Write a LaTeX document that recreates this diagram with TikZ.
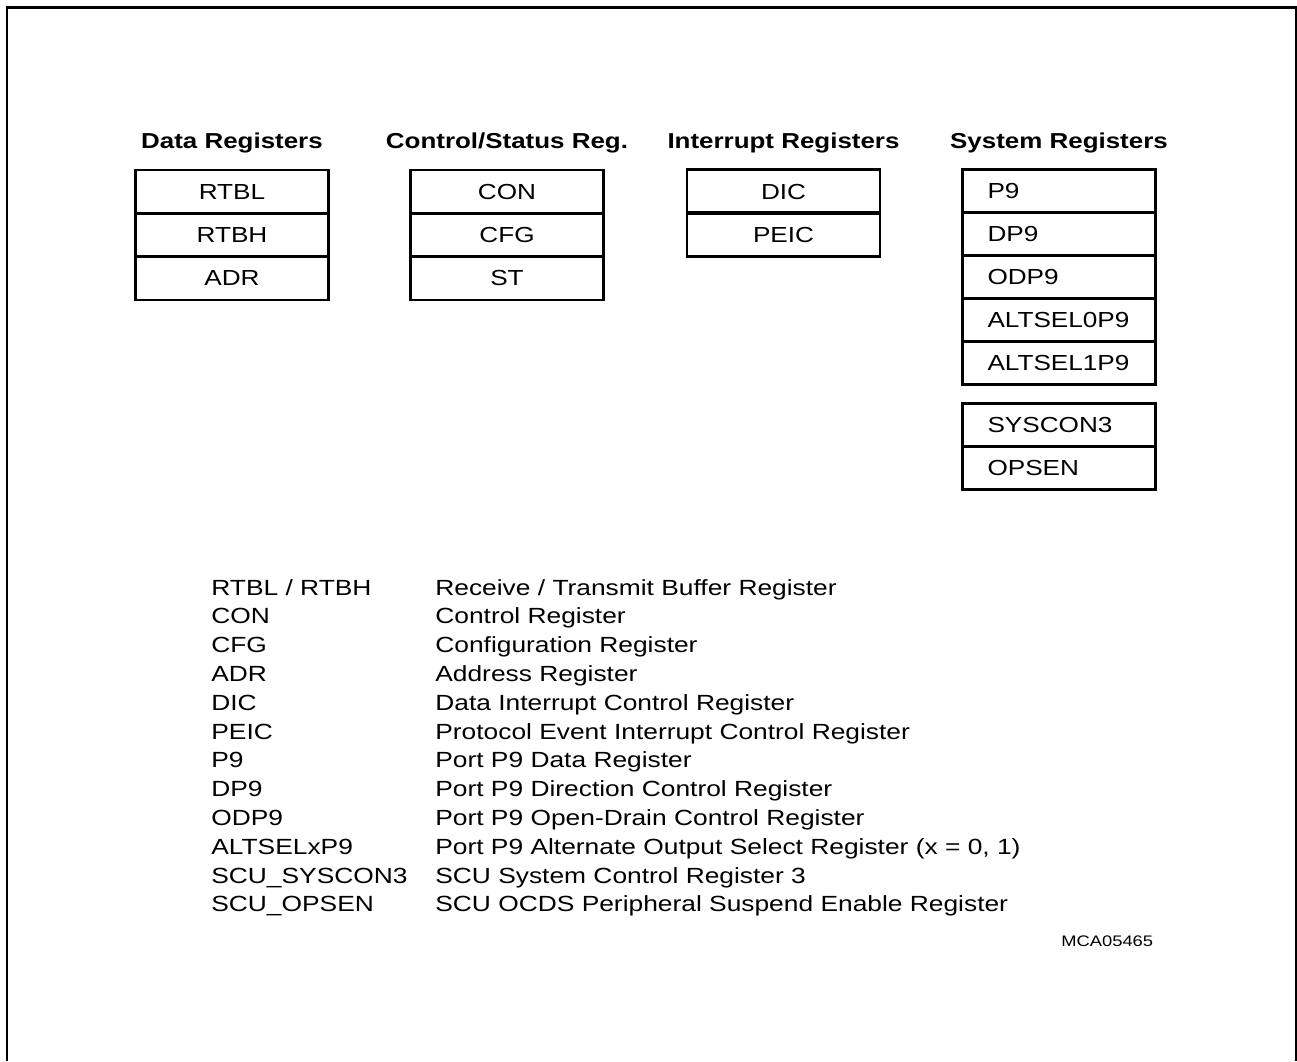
\documentclass[tikz,border=0pt]{standalone}
\usepackage{fontspec}
\setmainfont{Liberation Sans}[FakeStretch=1.2]
\usetikzlibrary{positioning}

\begin{document}
\begin{tikzpicture}[x=0.02cm,y=-0.02cm,
  regbox/.style={draw,line width=1.6pt,minimum width=3.86cm,minimum height=0.865cm,inner sep=0pt,font=\fontsize{12.4}{14}\selectfont},
  sysbox/.style={regbox,text width=2.86cm,align=left,inner xsep=0.5cm},
  grouphead/.style={anchor=base,inner sep=0pt,font=\fontsize{12.3}{14}\selectfont\bfseries},
  legtext/.style={anchor=base west,inner sep=0pt,font=\fontsize{12.5}{14}\selectfont}]
\useasboundingbox (0,0) rectangle (1297,1061);
\draw[line width=1.2pt] (7,1061) -- (7,7.5) -- (1296,7.5) -- (1296,1061);

% group headings
\node[grouphead] (hdata) at (232,148) {Data Registers};
\node[grouphead] (hctrl) at (507,148) {Control/Status Reg.};
\node[grouphead] (hint) at (783.5,148) {Interrupt Registers};
\node[grouphead] (hsys) at (1059,148) {System Registers};

% data registers
\node[regbox] (rtbl) at (232,191.7) {RTBL};
\node[regbox] (rtbh) at (232,235) {RTBH};
\node[regbox] (adr) at (232,278.3) {ADR};

% control / status registers
\node[regbox] (con) at (507,191.7) {CON};
\node[regbox] (cfg) at (507,235) {CFG};
\node[regbox] (st) at (507,278.3) {ST};

% interrupt registers
\node[regbox] (dic) at (783.5,191.5) {DIC};
\node[regbox] (peic) at (783.5,234.5) {PEIC};

% system registers
\node[sysbox] (p9) at (1059,191.4) {P9};
\node[sysbox] (dp9) at (1059,234.2) {DP9};
\node[sysbox] (odp9) at (1059,277) {ODP9};
\node[sysbox] (altsel0) at (1059,319.8) {ALTSEL0P9};
\node[sysbox] (altsel1) at (1059,362.6) {ALTSEL1P9};
\node[sysbox] (syscon) at (1059,425.3) {SYSCON3};
\node[sysbox] (opsen) at (1059,467.8) {OPSEN};

% legend
\node[legtext] (k1) at (211,595) {RTBL / RTBH};
\node[legtext] (d1) at (435,595) {Receive / Transmit Buffer Register};
\node[legtext] (k2) at (211,623.8) {CON};
\node[legtext] (d2) at (435,623.8) {Control Register};
\node[legtext] (k3) at (211,652.6) {CFG};
\node[legtext] (d3) at (435,652.6) {Configuration Register};
\node[legtext] (k4) at (211,681.4) {ADR};
\node[legtext] (d4) at (435,681.4) {Address Register};
\node[legtext] (k5) at (211,710.2) {DIC};
\node[legtext] (d5) at (435,710.2) {Data Interrupt Control Register};
\node[legtext] (k6) at (211,739) {PEIC};
\node[legtext] (d6) at (435,739) {Protocol Event Interrupt Control Register};
\node[legtext] (k7) at (211,767.8) {P9};
\node[legtext] (d7) at (435,767.8) {Port P9 Data Register};
\node[legtext] (k8) at (211,796.6) {DP9};
\node[legtext] (d8) at (435,796.6) {Port P9 Direction Control Register};
\node[legtext] (k9) at (211,825.4) {ODP9};
\node[legtext] (d9) at (435,825.4) {Port P9 Open-Drain Control Register};
\node[legtext] (k10) at (211,854.2) {ALTSELxP9};
\node[legtext] (d10) at (435,854.2) {Port P9 Alternate Output Select Register (x = 0, 1)};
\node[legtext] (k11) at (211,883) {SCU\_SYSCON3};
\node[legtext] (d11) at (435,883) {SCU System Control Register 3};
\node[legtext] (k12) at (211,911.8) {SCU\_OPSEN};
\node[legtext] (d12) at (435,911.8) {SCU OCDS Peripheral Suspend Enable Register};

\node[anchor=base west,inner sep=0pt,font=\fontsize{8.7}{10}\selectfont] (figid) at (1061,946.5) {MCA05465};
\end{tikzpicture}
\end{document}
